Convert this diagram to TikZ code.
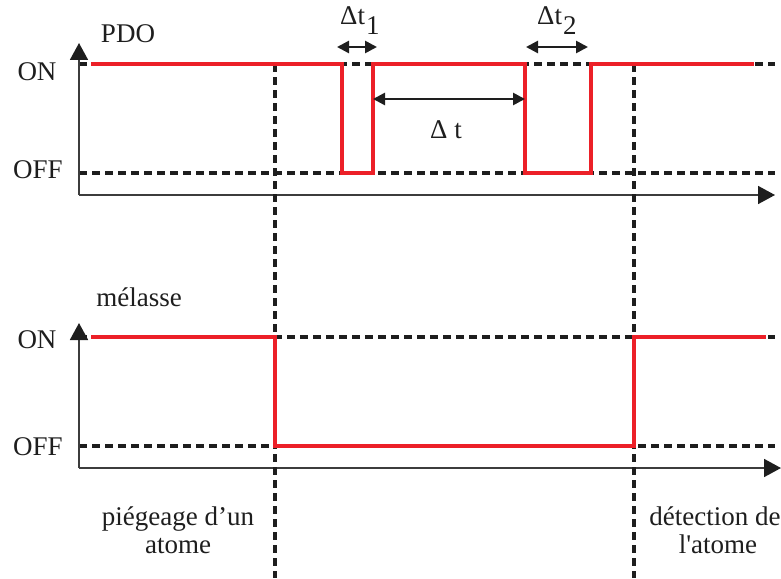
\documentclass[tikz,border=0pt]{standalone}
\usepackage{fontspec}
\setmainfont{Liberation Serif}
\usetikzlibrary{arrows.meta}
\definecolor{sigred}{RGB}{236,32,40}
\definecolor{axisgray}{RGB}{60,60,60}
\definecolor{ink}{RGB}{30,30,30}
\begin{document}
\begin{tikzpicture}[x=1pt,y=-1pt,
  lab/.style={font=\fontsize{27}{31}\selectfont, inner sep=0pt, text=ink},
  axis/.style={draw=axisgray, line width=1.8pt, -{Triangle[length=17pt,width=18pt,color=ink]}},
  guide/.style={draw=ink, line width=3.1pt, dash pattern=on 8pt off 5pt},
  sig/.style={draw=sigred, line width=3.3pt, line join=miter},
  dimarrow/.style={draw=ink, line width=2.6pt, {Triangle[length=12pt,width=12pt]}-{Triangle[length=12pt,width=12pt]}}
]
\useasboundingbox (0,0) rectangle (781,578);
% ---------- top plot (PDO) ----------
\coordinate (o1) at (79,195);
\coordinate (y1) at (79,43);
\coordinate (x1) at (775,195);
\coordinate (on1a) at (79,64);
\coordinate (on1b) at (775,64);
\coordinate (off1a) at (79,173);
\coordinate (off1b) at (775,173);
\draw[guide] (on1a) -- (on1b);
\draw[guide] (off1a) -- (off1b);
\draw[axis] (o1) -- (y1);
\draw[axis] (o1) -- (x1);
% ---------- bottom plot (melasse) ----------
\coordinate (o2) at (79,468);
\coordinate (y2) at (79,323);
\coordinate (x2) at (781,468);
\coordinate (on2a) at (79,337);
\coordinate (on2b) at (775,337);
\coordinate (off2a) at (79,446);
\coordinate (off2b) at (775,446);
\draw[guide] (on2a) -- (on2b);
\draw[guide] (off2a) -- (off2b);
\draw[axis] (o2) -- (y2);
\draw[axis] (o2) -- (x2);
% ---------- vertical guides ----------
\coordinate (v1t) at (275,64);
\coordinate (v1b) at (275,578);
\coordinate (v2t) at (634,64);
\coordinate (v2b) at (634,578);
\draw[guide] (v1t) -- (v1b);
\draw[guide] (v2t) -- (v2b);
% ---------- signals ----------
\draw[sig] (91,64) -- (342,64) -- (342,173) -- (373,173) -- (373,64) -- (525,64)
  -- (525,173) -- (591,173) -- (591,64) -- (754,64);
\draw[sig] (91,337) -- (275,337) -- (275,446) -- (634,446) -- (634,337) -- (766,337);
% ---------- dimension arrows ----------
\coordinate (d1a) at (337,47);
\coordinate (d1b) at (377,47);
\coordinate (d2a) at (526,47);
\coordinate (d2b) at (588,47);
\coordinate (da) at (373,99);
\coordinate (db) at (525,99);
\draw[dimarrow] (d1a) -- (d1b);
\draw[dimarrow] (d2a) -- (d2b);
\draw[dimarrow] (da) -- (db);
% ---------- labels ----------
\node[lab, anchor=base] (pdo) at (128,42) {PDO};
\node[lab, anchor=base] (on1) at (37,80) {ON};
\node[lab, anchor=base] (off1) at (38,178) {OFF};
\node[lab, anchor=base] (mel) at (139,306) {mélasse};
\node[lab, anchor=base] (on2) at (37,348) {ON};
\node[lab, anchor=base] (off2) at (38,455) {OFF};
\node[lab, anchor=base west] (dt1) at (340,25) {Δt\kern1pt\raisebox{-10pt}{1}};
\node[lab, anchor=base west] (dt2) at (537,25) {Δt\kern1pt\raisebox{-10pt}{2}};
\node[lab, anchor=base west] (dt) at (430,138) {Δ t};
\node[lab, anchor=base] (trap1) at (178,525) {piégeage d’un};
\node[lab, anchor=base] (trap2) at (178,553) {atome};
\node[lab, anchor=base] (det1) at (715,525) {détection de};
\node[lab, anchor=base] (det2) at (718,553) {l\textquotesingle atome};
\end{tikzpicture}
\end{document}
